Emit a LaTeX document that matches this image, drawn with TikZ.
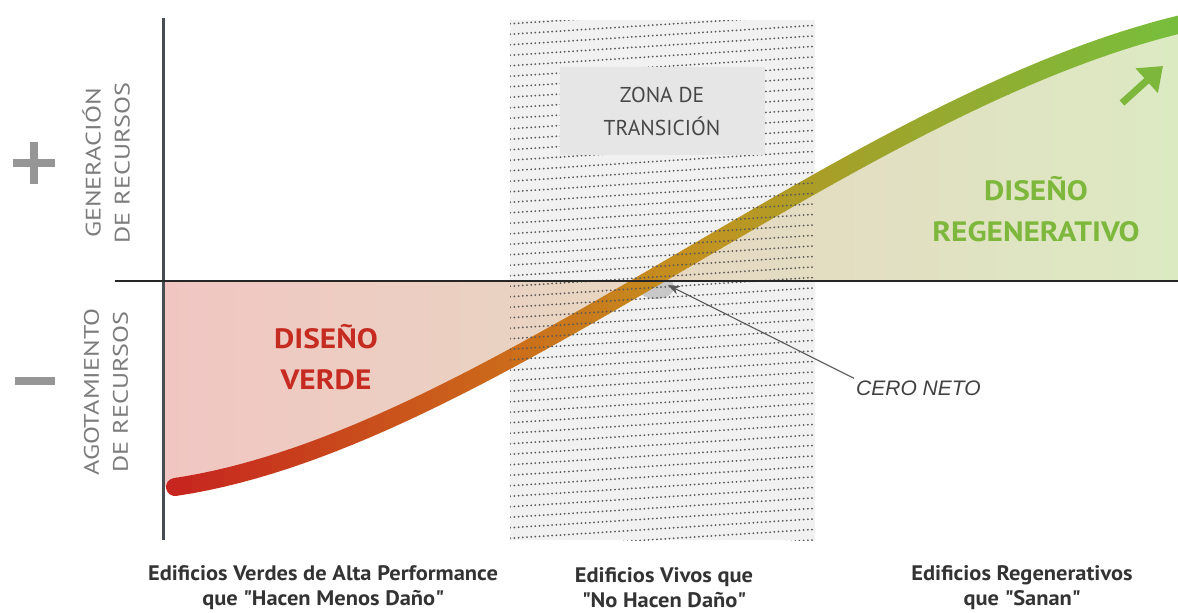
\documentclass[tikz,border=0pt]{standalone}
\usepackage{fontspec}
\setmainfont{PT Sans}
\newfontfamily\anchafont[FakeStretch=1.12]{PT Sans}
\newfontfamily\ladofont[FakeStretch=1.25]{PT Sans}
\newfontfamily\piefont[FakeStretch=1.07]{PT Sans}
\newfontfamily\arialfont{Liberation Sans}
\usetikzlibrary{arrows.meta}

\definecolor{axisgray}{HTML}{474D52}
\definecolor{textgray}{HTML}{7C7C7C}
\definecolor{labelgray}{HTML}{333333}
\definecolor{rojo}{HTML}{C62B22}
\definecolor{verde}{HTML}{7DB73B}
\definecolor{zonagray}{HTML}{F1F1F1}
\definecolor{boxgray}{HTML}{E6E6E6}
\definecolor{fillpink}{HTML}{F1C6C2}
\definecolor{filltan}{HTML}{E9D2B4}
\definecolor{fillgreen}{HTML}{DCEAC2}

\tikzset{
  zonedots/.style={line width=2pt, draw=black!65, dash pattern=on 0pt off 4.2pt, line cap=round},
  biglabel/.style={font=\fontsize{28}{41}\selectfont\anchafont\bfseries, align=center},
  sidelabel/.style={font=\fontsize{21}{29}\selectfont\ladofont, text=textgray, align=center, rotate=90},
  bottomlabel/.style={font=\fontsize{21}{25}\selectfont\piefont\bfseries, text=labelgray, align=center},
  ceroarrow/.style={draw=black!65, line width=1.1pt, -{Stealth[length=12pt,width=9pt]}}
}

\begin{document}
\begin{tikzpicture}[x=1pt,y=-1pt]
  \useasboundingbox (0,0) rectangle (1178,613);
  % zona de transicion (fondo)
  \fill[zonagray] (510,20) rectangle (815,540);
  % areas bajo / sobre la curva
  \begin{scope}
    \clip (175,487) .. controls (490,440) and (850,100) .. (1178,25)
      -- (1178,281) -- (163,281) -- (163,487) -- cycle;
    \shade[left color=fillpink, middle color=filltan, right color=fillgreen]
      (163,0) rectangle (1178,500);
  \end{scope}
  % sombra del cero
  \fill[black!28, opacity=0.7] (656,287) ellipse (18pt and 12pt);
  % curva con degradado
  \foreach \i in {0,...,63}{
    \pgfmathsetmacro\xa{160+\i*16}
    \pgfmathsetmacro\xm{\xa+8}
    \pgfmathsetmacro\ua{max(0,min(1,(\xm-175)/345))}
    \pgfmathsetmacro\ub{max(0,min(1,(\xm-520)/170))}
    \pgfmathsetmacro\uc{max(0,min(1,(\xm-690)/180))}
    \pgfmathsetmacro\ud{max(0,min(1,(\xm-870)/308))}
    \pgfmathtruncatemacro\cr{199+5*\ua-8*\ub-36*\uc-40*\ud}
    \pgfmathtruncatemacro\cg{37+73*\ua+36*\ub+18*\uc+26*\ud}
    \pgfmathtruncatemacro\cb{31-5*\ua+6*\ub+12*\uc+16*\ud}
    \definecolor{curvecol}{RGB}{\cr,\cg,\cb}
    \begin{scope}
      \clip (\xa,0) rectangle ++(16.6,613);
      \draw[curvecol, line width=18pt, line cap=round]
        (175,487) .. controls (490,440) and (850,100) .. (1190,22);
    \end{scope}
  }
  % puntos de la zona
  \begin{scope}
    \clip (510,20) rectangle (815,540);
    \foreach \k in {0,...,51}
      \draw[zonedots] (506,24+\k*10.5) -- ++(314,-20);
  \end{scope}
  \node[fill=boxgray, minimum width=205pt, minimum height=88pt, inner sep=0pt,
        font=\fontsize{21.5}{33}\selectfont, text=black!72, align=center]
    (zona) at (662,111) {ZONA DE\\TRANSICIÓN};
  % ejes
  \draw[axisgray, line width=3pt] (163,18) -- (163,540);
  \draw[black!85, line width=1.8pt] (115,281) -- (1178,281);
  % mas / menos
  \fill[textgray!80] (13,159) rectangle (55,167);
  \fill[textgray!80] (30,142) rectangle (38,184);
  \fill[textgray!80] (15,377) rectangle (55,385);
  \node[sidelabel] (generacion) at (106,163) {GENERACIÓN\\DE RECURSOS};
  \node[sidelabel] (agotamiento) at (106,392) {AGOTAMIENTO\\DE RECURSOS};
  % textos de diseno
  \node[biglabel, text=rojo] (verdelbl) at (326,357) {DISEÑO\\VERDE};
  \node[biglabel, text=verde] (regenlbl) at (1036,209) {DISEÑO\\REGENERATIVO};
  % flecha verde
  \draw[verde, line width=7pt, -{Triangle[length=22pt,width=32pt]}] (1122,103) -- (1163,66);
  % cero neto
  \coordinate (cero) at (668,285);
  \node[font=\fontsize{21}{24}\selectfont\arialfont\itshape, text=black!75, anchor=west, inner sep=2pt]
    (ceroneto) at (854,388) {CERO NETO};
  \draw[ceroarrow] (ceroneto.north west) -- (cero);
  % etiquetas inferiores
  \node[bottomlabel] (alta) at (323,588) {Edificios Verdes de Alta Performance\\que \textquotedbl Hacen Menos Daño\textquotedbl};
  \node[bottomlabel] (vivos) at (664,588) {Edificios Vivos que\\\textquotedbl No Hacen Daño\textquotedbl};
  \node[bottomlabel] (sanan) at (1022,588) {Edificios Regenerativos\\que \textquotedbl Sanan\textquotedbl};
\end{tikzpicture}
\end{document}
